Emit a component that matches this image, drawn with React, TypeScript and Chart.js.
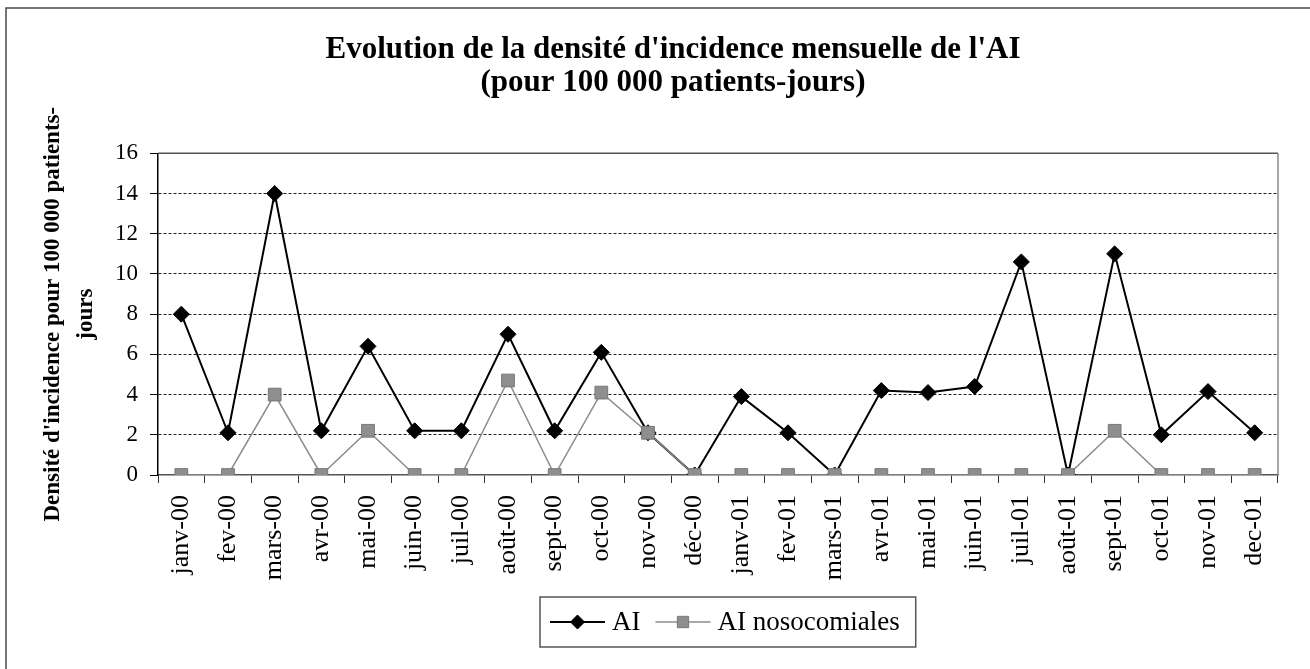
import React, { useEffect, useRef } from "react";
import { Chart, registerables } from "chart.js";

Chart.register(...registerables);

const months = [
  "janv-00", "fev-00", "mars-00", "avr-00", "mai-00", "juin-00", "juil-00", "août-00",
  "sept-00", "oct-00", "nov-00", "déc-00", "janv-01", "fev-01", "mars-01", "avr-01",
  "mai-01", "juin-01", "juil-01", "août-01", "sept-01", "oct-01", "nov-01", "dec-01",
];
const aiValues = [8, 2.1, 14, 2.2, 6.4, 2.2, 2.2, 7.0, 2.2, 6.1, 2.1, 0, 3.9, 2.1, 0, 4.2, 4.1, 4.4, 10.6, 0, 11.0, 2.0, 4.15, 2.1];
const nosoValues = [0, 0, 4.0, 0, 2.2, 0, 0, 4.7, 0, 4.1, 2.1, 0, 0, 0, 0, 0, 0, 0, 0, 0, 2.2, 0, 0, 0];
const yMin = 0;
const yMax = 16;
const yStep = 2;
const titleLines = ["Evolution de la densité d'incidence mensuelle de l'AI", "(pour 100 000 patients-jours)"];
const yTitleLines = ["Densité d'incidence pour 100 000 patients-", "jours"];
const seriesNames = ["AI", "AI nosocomiales"];

const SERIF = "'Liberation Serif', 'Times New Roman', serif";

function drawMarker(ctx: CanvasRenderingContext2D, style: string, x: number, y: number, r: number, fill: string, stroke: string) {
  ctx.save();
  ctx.fillStyle = fill;
  ctx.strokeStyle = stroke;
  ctx.lineWidth = 1;
  ctx.beginPath();
  if (style === "rectRot") {
    ctx.moveTo(x, y - r);
    ctx.lineTo(x + r, y);
    ctx.lineTo(x, y + r);
    ctx.lineTo(x - r, y);
    ctx.closePath();
  } else {
    const s = r * Math.SQRT1_2;
    ctx.rect(x - s, y - s, 2 * s, 2 * s);
  }
  ctx.fill();
  ctx.stroke();
  ctx.restore();
}

const decorPlugin = {
  id: "decor",
  beforeDraw(chart: any) {
    const { ctx } = chart;
    ctx.save();
    ctx.fillStyle = "#fff";
    ctx.fillRect(0, 0, chart.width, chart.height);
    ctx.restore();
  },
  afterDraw(chart: any) {
    const { ctx, chartArea: a } = chart;
    ctx.save();
    // outer frame
    ctx.strokeStyle = "#4a4a4a";
    ctx.lineWidth = 1.5;
    ctx.beginPath();
    ctx.moveTo(6, chart.height);
    ctx.lineTo(6, 8);
    ctx.lineTo(chart.width, 8);
    ctx.stroke();
    // plot box top & right
    ctx.strokeStyle = "#555";
    ctx.lineWidth = 1.5;
    ctx.beginPath();
    ctx.moveTo(a.left, a.top);
    ctx.lineTo(a.right, a.top);
    ctx.stroke();
    ctx.strokeStyle = "#888";
    ctx.beginPath();
    ctx.moveTo(a.right, a.top);
    ctx.lineTo(a.right, a.bottom);
    ctx.stroke();

    // legend
    const fontSize = 27;
    ctx.font = `${fontSize}px ${SERIF}`;
    const lineLen = 55;
    const gapAfterLine = 7;
    const gapBetween = 15;
    const padL = 10;
    const padR = 16;
    const ds = chart.data.datasets;
    const textW = ds.map((d: any) => ctx.measureText(d.label).width);
    let total = padL + padR;
    ds.forEach((_: any, i: number) => {
      total += lineLen + gapAfterLine + textW[i];
      if (i < ds.length - 1) total += gapBetween;
    });
    const boxH = 50;
    const cx = (a.left + a.right) / 2 + 10;
    const bx = Math.round(cx - total / 2);
    const by = chart.height - 72;
    ctx.strokeStyle = "#555";
    ctx.lineWidth = 1.5;
    ctx.strokeRect(bx, by, total, boxH);
    const my = by + boxH / 2;
    let x = bx + padL;
    ds.forEach((d: any, i: number) => {
      ctx.strokeStyle = d.borderColor;
      ctx.lineWidth = d.borderWidth;
      ctx.beginPath();
      ctx.moveTo(x, my);
      ctx.lineTo(x + lineLen, my);
      ctx.stroke();
      drawMarker(ctx, d.pointStyle, x + lineLen / 2, my, d.legendRadius, d.pointBackgroundColor, d.pointBorderColor);
      x += lineLen + gapAfterLine;
      ctx.fillStyle = "#000";
      ctx.textBaseline = "middle";
      ctx.textAlign = "left";
      ctx.fillText(d.label, x, my + 1);
      x += textW[i] + gapBetween;
    });
    ctx.restore();
  },
};

export default function App() {
  const canvasRef = useRef<HTMLCanvasElement | null>(null);

  useEffect(() => {
    document.body.style.margin = "0";
    const canvas = canvasRef.current;
    if (!canvas) return;
    const chart = new Chart(canvas, {
      type: "line",
      data: {
        labels: months,
        datasets: [
          {
            label: seriesNames[0],
            data: aiValues,
            borderColor: "#000",
            borderWidth: 2,
            pointStyle: "rectRot",
            pointRadius: 8,
            pointBackgroundColor: "#000",
            pointBorderColor: "#000",
            pointBorderWidth: 1,
            tension: 0,
            order: 1,
            legendRadius: 7,
          } as any,
          {
            label: seriesNames[1],
            data: nosoValues,
            borderColor: "#8c8c8c",
            borderWidth: 1.5,
            pointStyle: "rect",
            pointRadius: 9,
            pointBackgroundColor: "#8e8e8e",
            pointBorderColor: "#777",
            pointBorderWidth: 1,
            tension: 0,
            order: 0,
            legendRadius: 8,
          } as any,
        ],
      },
      options: {
        responsive: false,
        animation: false,
        devicePixelRatio: 1,
        layout: { padding: { left: 68, right: 32, top: 0, bottom: 64 } },
        plugins: {
          legend: { display: false },
          tooltip: { enabled: false },
          title: {
            display: true,
            text: titleLines,
            color: "#000",
            font: { family: SERIF, size: 31, weight: "bold", lineHeight: 1.07 },
            padding: { top: 33, bottom: 54 },
          },
        },
        scales: {
          x: {
            type: "category",
            offset: true,
            grid: {
              offset: true,
              drawOnChartArea: false,
              drawTicks: true,
              tickLength: 8,
              color: "#333",
              lineWidth: 1,
            },
            border: { display: true, color: "#555", width: 1.5 },
            ticks: {
              autoSkip: false,
              minRotation: 90,
              maxRotation: 90,
              padding: 12,
              color: "#000",
              font: { family: SERIF, size: 26 },
            },
            afterFit: (s: any) => {
              s.height = 130;
            },
          },
          y: {
            min: yMin,
            max: yMax,
            ticks: {
              stepSize: yStep,
              padding: 12,
              color: "#000",
              font: { family: SERIF, size: 23 },
            },
            grid: {
              color: (c: any) =>
                c.tick && (c.tick.value === yMax || c.tick.value === yMin) ? "rgba(0,0,0,0)" : "#222",
              lineWidth: 1,
              tickColor: "#000",
              tickLength: 8,
              drawTicks: true,
            },
            border: { display: true, color: "#000", width: 1.5, dash: [3, 2] },
            title: {
              display: true,
              text: yTitleLines,
              color: "#000",
              font: { family: SERIF, size: 23, weight: "bold", lineHeight: 1.45 },
              padding: { top: -32, bottom: 0 },
            },
            afterFit: (s: any) => {
              s.width = 90;
            },
          },
        },
      },
      plugins: [decorPlugin],
    });
    return () => chart.destroy();
  }, []);

  return (
    <div style={{ position: "absolute", left: 0, top: 0, width: 1310, height: 669, background: "#fff" }}>
      <canvas ref={canvasRef} width={1310} height={669} style={{ width: 1310, height: 669, display: "block" }} />
    </div>
  );
}
